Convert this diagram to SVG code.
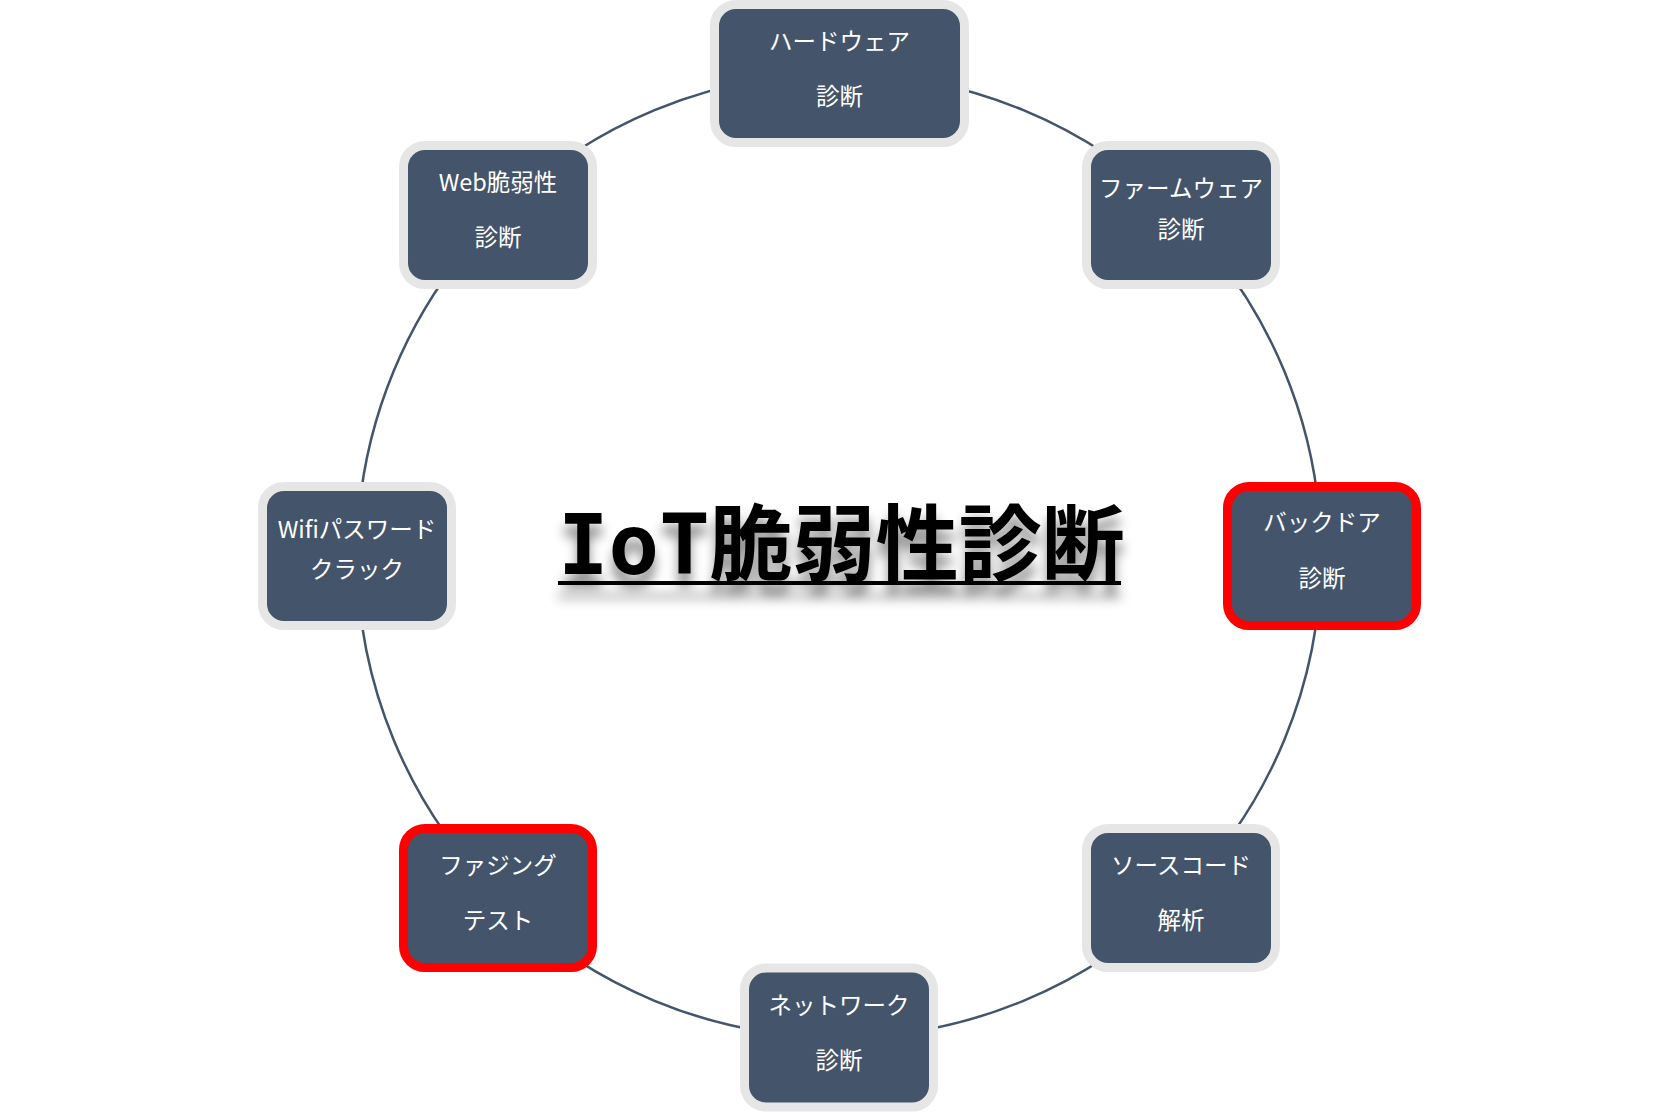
<svg xmlns="http://www.w3.org/2000/svg" width="1679" height="1113" viewBox="0 0 1679 1113">
<defs>
<style>
.box{fill:#44546A;stroke:#E7E6E6;stroke-width:9}
.hot{stroke:#FF0000}
.lbl{font-family:"Noto Sans CJK JP","Noto Sans",sans-serif;font-size:23.5px;fill:#FFFFFF;text-anchor:middle}
.arc{fill:none;stroke:#44546A;stroke-width:2.5}
</style>
<filter id="sh" x="-10%" y="-40%" width="120%" height="200%">
<feGaussianBlur in="SourceAlpha" stdDeviation="6"/>
<feOffset dx="0" dy="13" result="b"/>
<feFlood flood-color="#000" flood-opacity="0.45"/>
<feComposite in2="b" operator="in"/>
<feMerge><feMergeNode/><feMergeNode in="SourceGraphic"/></feMerge>
</filter>
</defs>
<rect width="1679" height="1113" fill="#FFFFFF"/>
<g id="connectors">
<path class="arc" d="M839 73.5 A482 482 0 0 1 1179.8 214.7"/>
<path class="arc" d="M1179.8 214.7 A482 482 0 0 1 1321 555.5"/>
<path class="arc" d="M1321 555.5 A482 482 0 0 1 1179.8 896.3"/>
<path class="arc" d="M1179.8 896.3 A482 482 0 0 1 839 1037.5"/>
<path class="arc" d="M839 1037.5 A482 482 0 0 1 498.2 896.3"/>
<path class="arc" d="M498.2 896.3 A482 482 0 0 1 357 555.5"/>
<path class="arc" d="M357 555.5 A482 482 0 0 1 498.2 214.7"/>
<path class="arc" d="M498.2 214.7 A482 482 0 0 1 839 73.5"/>
</g>
<g id="title" filter="url(#sh)">
<text x="558" y="574" style="font-weight:bold;fill:#000"><tspan style="font-family:'DejaVu Sans Mono',monospace;font-size:84px">IoT</tspan><tspan style="font-family:'Noto Sans CJK JP',sans-serif;font-size:83px">脆弱性診断</tspan></text>
<rect x="558" y="581" width="563" height="4" fill="#000"/>
</g>
<g id="n-hardware">
<rect class="box" x="714.5" y="4.5" width="250" height="138" rx="21.5"/>
<text class="lbl" x="839.5" y="50">ハードウェア</text>
<text class="lbl" x="839.5" y="105">診断</text>
</g>
<g id="n-firmware">
<rect class="box" x="1086.5" y="145.5" width="189" height="139" rx="21.5"/>
<text class="lbl" x="1181" y="197">ファームウェア</text>
<text class="lbl" x="1181" y="238">診断</text>
</g>
<g id="n-backdoor">
<rect class="box hot" x="1227.5" y="486.5" width="189" height="139" rx="21.5"/>
<text class="lbl" x="1322" y="531">バックドア</text>
<text class="lbl" x="1322" y="587">診断</text>
</g>
<g id="n-source">
<rect class="box" x="1086.5" y="828.5" width="189" height="139" rx="21.5"/>
<text class="lbl" x="1181" y="874">ソースコード</text>
<text class="lbl" x="1181" y="929">解析</text>
</g>
<g id="n-network">
<rect class="box" x="744.5" y="968" width="189" height="139" rx="21.5"/>
<text class="lbl" x="839" y="1014">ネットワーク</text>
<text class="lbl" x="839" y="1069">診断</text>
</g>
<g id="n-fuzzing">
<rect class="box hot" x="403.5" y="828.5" width="189" height="139" rx="21.5"/>
<text class="lbl" x="498" y="874">ファジング</text>
<text class="lbl" x="498" y="929">テスト</text>
</g>
<g id="n-wifi">
<rect class="box" x="262.5" y="486.5" width="189" height="139" rx="21.5"/>
<text class="lbl" x="357" y="538">Wifiパスワード</text>
<text class="lbl" x="357" y="578">クラック</text>
</g>
<g id="n-web">
<rect class="box" x="403.5" y="145.5" width="189" height="139" rx="21.5"/>
<text class="lbl" x="498" y="191">Web脆弱性</text>
<text class="lbl" x="498" y="246">診断</text>
</g>
</svg>
